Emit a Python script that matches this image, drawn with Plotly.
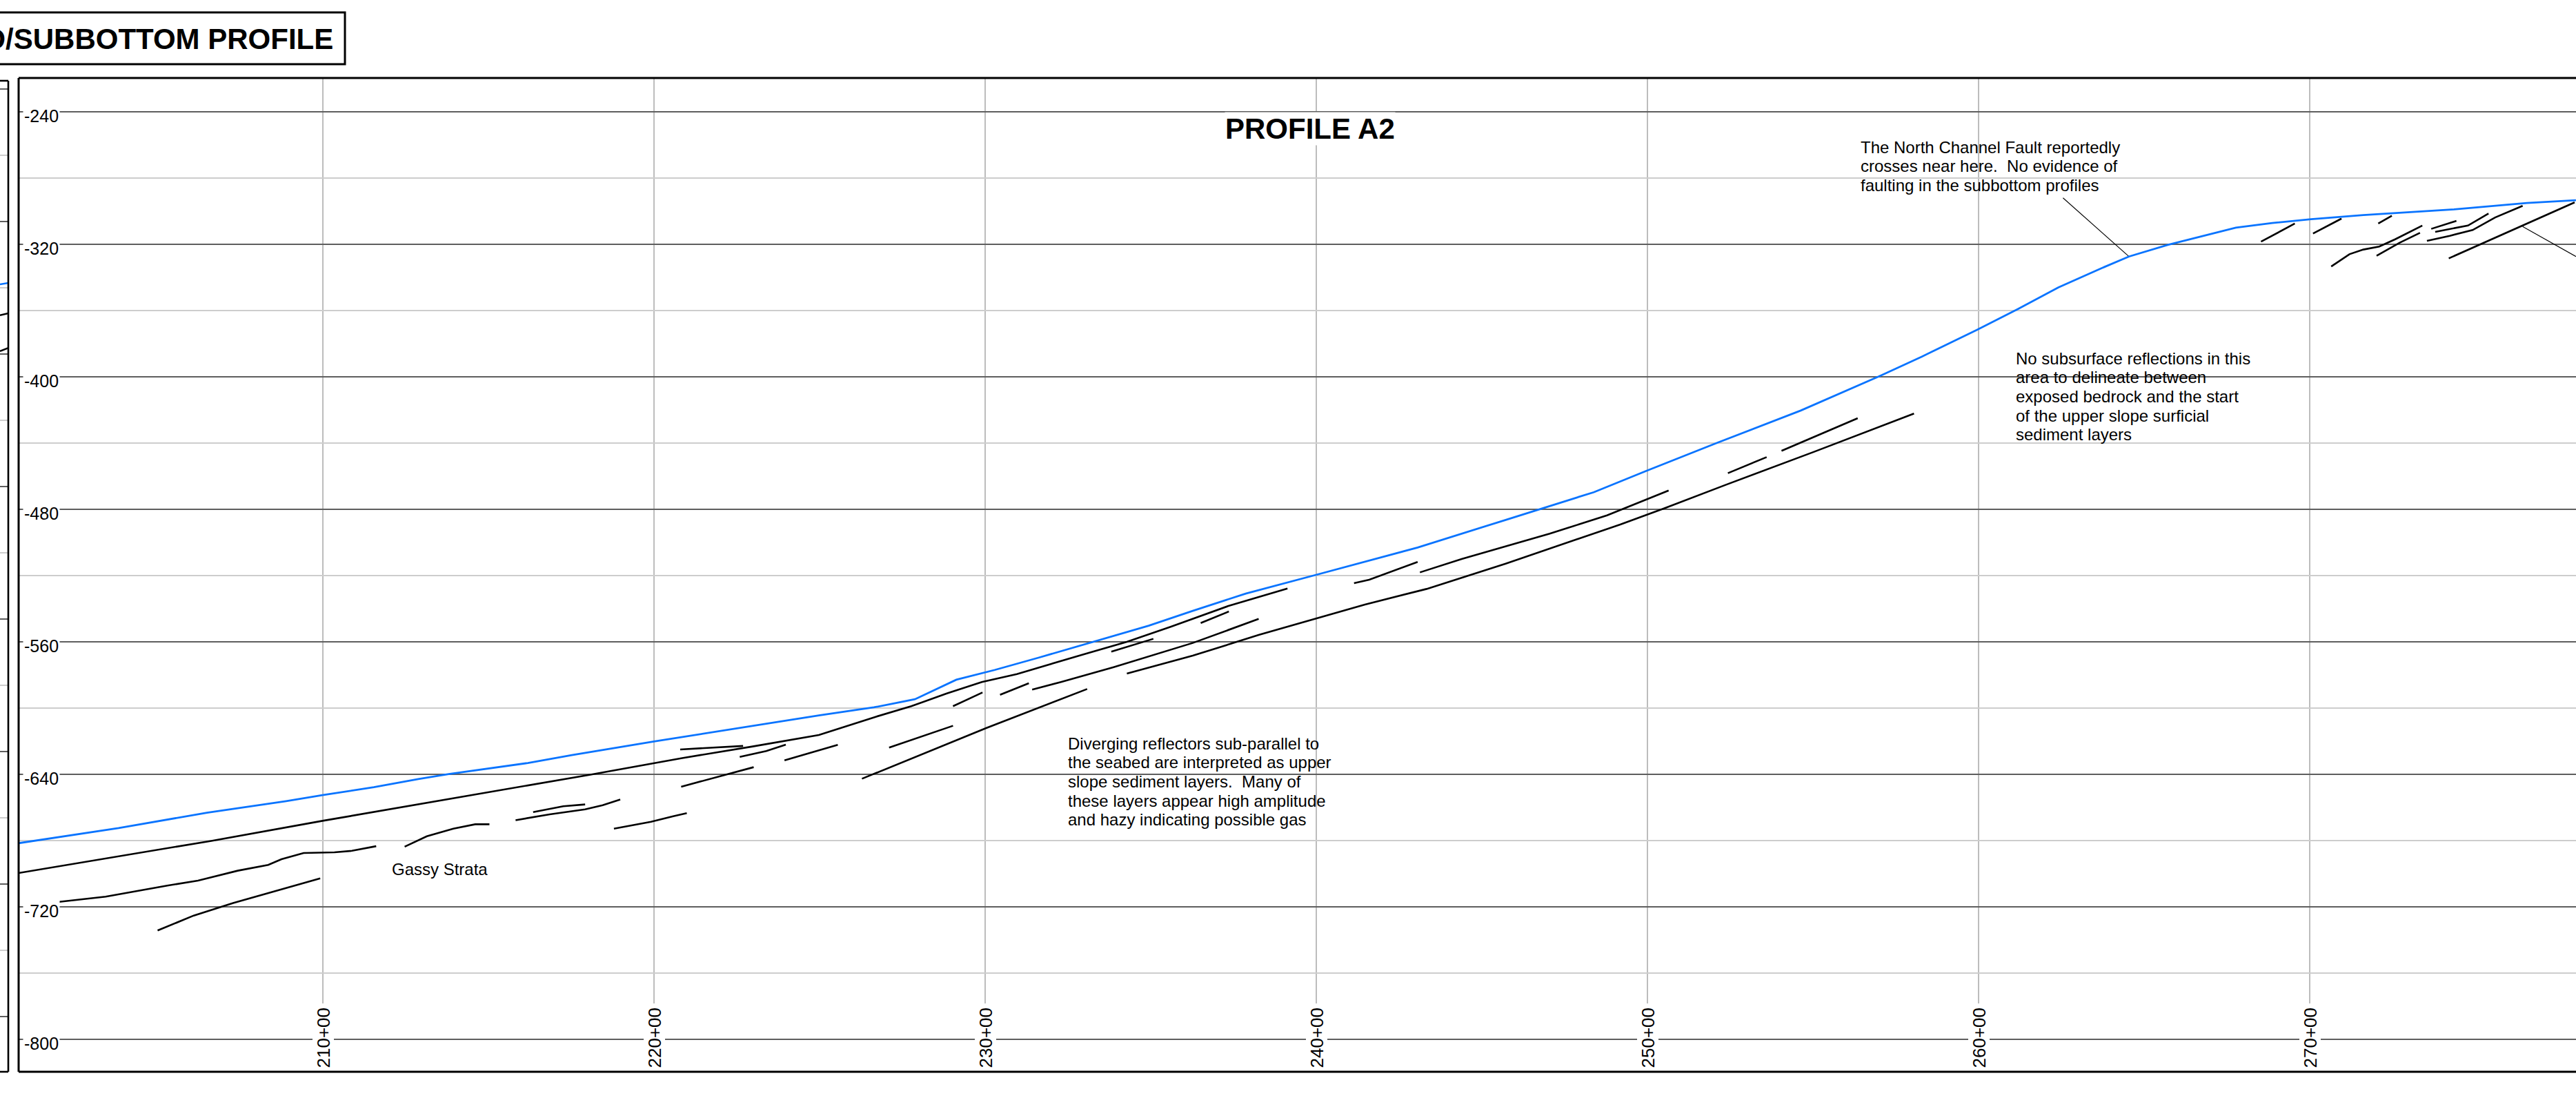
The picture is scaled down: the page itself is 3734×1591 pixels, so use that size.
import plotly.graph_objects as go

# ---------------------------------------------------------------
# Profile A2 - interpreted seabed and subbottom reflectors
# Stations in feet along line (21000 = 210+00), elevations in feet
# ---------------------------------------------------------------

W, H = 3734, 1591

# Seabed (bathymetric surface)
seabed_sta = [20081, 20383, 20650, 20889, 21002, 21154, 21288, 21380, 21619, 21752,
              22000, 22166, 22298, 22498, 22664, 22788, 22913, 23029, 23163, 23322,
              23494, 23627, 23787, 24001, 24306, 24572, 24838, 24997, 25210, 25463,
              25701, 25829, 25994, 26117, 26241, 26365, 26454, 26571, 26681, 26777,
              26887, 27004, 27162, 27436, 27656, 27804]
seabed_elev = [-681.7, -672.6, -663.3, -656.3, -652.6, -647.9, -643.0, -640.0, -633.3, -628.5,
               -620.3, -615.0, -610.8, -604.6, -599.7, -594.8, -583.0, -577.1, -569.6, -560.4,
               -550.4, -541.4, -531.0, -519.6, -503.2, -486.5, -469.8, -456.9, -440.0, -420.5,
               -399.7, -387.9, -371.9, -359.4, -346.2, -335.1, -327.5, -320.5, -315.0, -310.1,
               -307.3, -305.0, -302.5, -299.0, -295.2, -293.5]

# Interpreted subbottom reflectors
refl_01_sta = [20081, 20291, 20663, 21002, 21354, 21805, 22085, 22298, 22498, 22671,
               22777, 22883, 22990, 23096, 23295, 23428, 23560, 23733, 23913]
refl_01_elev = [-699.7, -692.8, -680.3, -668.1, -656.0, -640.4, -630.3, -623.3, -616.4, -605.3,
                -599.0, -591.4, -584.4, -579.6, -567.8, -560.1, -551.1, -538.6, -527.9]
refl_02_sta = [20204, 20344, 20530, 20623, 20743, 20835, 20875, 20942, 21035, 21088, 21161]
refl_02_elev = [-717.1, -714.0, -707.3, -704.3, -698.3, -694.8, -691.4, -687.6, -687.2, -686.3, -683.5]
refl_03_sta = [20501, 20610, 20729, 20992]
refl_03_elev = [-734.4, -725.4, -717.8, -702.9]
refl_04_sta = [21247, 21314, 21394, 21460, 21503]
refl_04_elev = [-683.8, -677.5, -672.9, -670.3, -670.3]
refl_05_sta = [21582, 21685, 21792, 21845, 21898]
refl_05_elev = [-667.8, -664.3, -661.3, -658.8, -655.3]
refl_06_sta = [21635, 21726, 21792]
refl_06_elev = [-662.9, -659.4, -658.3]
refl_07_sta = [21879, 21991, 22058, 22099]
refl_07_elev = [-672.9, -668.8, -665.4, -663.6]
refl_08_sta = [22079, 22269]
refl_08_elev = [-625.1, -623.0]
refl_09_sta = [22259, 22339, 22398]
refl_09_elev = [-629.6, -626.1, -622.2]
refl_10_sta = [22394, 22555]
refl_10_elev = [-631.7, -622.3]
refl_11_sta = [22082, 22301]
refl_11_elev = [-647.6, -635.8]
refl_12_sta = [22710, 22903]
refl_12_elev = [-624.0, -610.8]
refl_13_sta = [22628, 23003, 23308]
refl_13_elev = [-642.8, -612.2, -588.6]
refl_14_sta = [22903, 22992]
refl_14_elev = [-599.0, -590.7]
refl_15_sta = [23045, 23132]
refl_15_elev = [-592.1, -585.1]
refl_16_sta = [23142, 23229, 23388, 23627, 23826]
refl_16_elev = [-589.0, -584.4, -575.4, -560.8, -546.3]
refl_17_sta = [23381, 23508]
refl_17_elev = [-566.1, -558.3]
refl_18_sta = [23651, 23736]
refl_18_elev = [-548.8, -541.8]
refl_19_sta = [23428, 23627, 23826, 24147, 24333, 24572, 24918, 25050, 25236, 25502, 25805]
refl_19_elev = [-579.3, -568.5, -556.0, -537.6, -528.2, -512.9, -489.3, -479.6, -465.4, -445.5, -422.3]
refl_20_sta = [24114, 24160, 24306]
refl_20_elev = [-524.7, -522.6, -511.9]
refl_21_sta = [24313, 24439, 24705, 24878, 25064]
refl_21_elev = [-518.2, -510.1, -494.8, -483.8, -468.8]
refl_22_sta = [25243, 25360]
refl_22_elev = [-458.3, -448.6]
refl_23_sta = [25405, 25635]
refl_23_elev = [-444.8, -425.1]
# upper slope / shelf break reflectors
refl_24_sta = [26853, 26955]
refl_24_elev = [-318.5, -307.6]
refl_25_sta = [27010, 27096]
refl_25_elev = [-313.6, -304.6]
refl_26_sta = [27207, 27248]
refl_26_elev = [-307.6, -302.9]
refl_27_sta = [27065, 27120, 27162, 27210, 27258, 27340]
refl_27_elev = [-333.5, -326.1, -323.3, -321.5, -317.1, -308.8]
refl_28_sta = [27202, 27271, 27333]
refl_28_elev = [-327.1, -319.2, -313.2]
refl_29_sta = [27367, 27443]
refl_29_elev = [-310.8, -306.0]
refl_30_sta = [27379, 27478, 27540]
refl_30_elev = [-312.6, -308.8, -301.5]
refl_31_sta = [27354, 27423, 27492, 27560, 27643]
refl_31_elev = [-318.0, -315.0, -311.5, -303.9, -296.9]
refl_32_sta = [27420, 27800]
refl_32_elev = [-328.6, -294.8]

# Callout leader lines
fault_leader_sta = [26255, 26454]
fault_leader_elev = [-292.1, -327.5]
edge_leader_sta = [27643, 27804]
edge_leader_elev = [-309.4, -327.5]

# Axis ticks
station_ticks = [21000, 22000, 23000, 24000, 25000, 26000, 27000]
elev_ticks = [-240, -320, -400, -480, -560, -640, -720, -800]

# Adjoining panel (previous profile sheet) at the left edge
prev_x = [0, 1]
prev_seabed = [-278.1, -277.3]
prev_refl_a = [-296.8, -295.6]
prev_refl_b = [-318.5, -316.5]

reflectors = [
    (refl_01_sta, refl_01_elev), (refl_02_sta, refl_02_elev), (refl_03_sta, refl_03_elev),
    (refl_04_sta, refl_04_elev), (refl_05_sta, refl_05_elev), (refl_06_sta, refl_06_elev),
    (refl_07_sta, refl_07_elev), (refl_08_sta, refl_08_elev), (refl_09_sta, refl_09_elev),
    (refl_10_sta, refl_10_elev), (refl_11_sta, refl_11_elev), (refl_12_sta, refl_12_elev),
    (refl_13_sta, refl_13_elev), (refl_14_sta, refl_14_elev), (refl_15_sta, refl_15_elev),
    (refl_16_sta, refl_16_elev), (refl_17_sta, refl_17_elev), (refl_18_sta, refl_18_elev),
    (refl_19_sta, refl_19_elev), (refl_20_sta, refl_20_elev), (refl_21_sta, refl_21_elev),
    (refl_22_sta, refl_22_elev), (refl_23_sta, refl_23_elev), (refl_24_sta, refl_24_elev),
    (refl_25_sta, refl_25_elev), (refl_26_sta, refl_26_elev), (refl_27_sta, refl_27_elev),
    (refl_28_sta, refl_28_elev), (refl_29_sta, refl_29_elev), (refl_30_sta, refl_30_elev),
    (refl_31_sta, refl_31_elev), (refl_32_sta, refl_32_elev),
]

FONT = "Liberation Sans, Arial, Helvetica, sans-serif"
BLUE = "#0a74ff"
GRID_MAJOR = "#5e5e5e"
GRID_MINOR = "#cdcdcd"

fig = go.Figure()

# Adjoining panel traces
fig.add_trace(go.Scatter(x=prev_x, y=prev_seabed, mode="lines", line=dict(color=BLUE, width=2.5),
                         xaxis="x2", yaxis="y2", hoverinfo="skip"))
for prev in (prev_refl_a, prev_refl_b):
    fig.add_trace(go.Scatter(x=prev_x, y=prev, mode="lines", line=dict(color="black", width=2.5),
                             xaxis="x2", yaxis="y2", hoverinfo="skip"))

# Reflectors
for sta, elev in reflectors:
    fig.add_trace(go.Scatter(x=sta, y=elev, mode="lines",
                             line=dict(color="black", width=2.6), hoverinfo="skip"))

# Leaders
for sta, elev in ((fault_leader_sta, fault_leader_elev), (edge_leader_sta, edge_leader_elev)):
    fig.add_trace(go.Scatter(x=sta, y=elev, mode="lines",
                             line=dict(color="black", width=1.1), hoverinfo="skip"))

# Seabed
fig.add_trace(go.Scatter(x=seabed_sta, y=seabed_elev, mode="lines",
                         line=dict(color=BLUE, width=2.8), hoverinfo="skip"))

# Layout geometry
plot_left = 27
plot_top, plot_bottom = 113, 1553
plot_h = plot_bottom - plot_top
px_per_ft = 2.4
x_left_px = 468  # pixel of station 210+00
ft_per_px = 100 / 48

x_range = [21000 - (x_left_px - plot_left) * ft_per_px, 21000 + (W - x_left_px) * ft_per_px]
y_range = [-240 - (plot_bottom - 161.7) / px_per_ft, -240 + (161.7 - plot_top) / px_per_ft]

prev_top_px = 117
prev_dom_top = 1 - (prev_top_px - plot_top) / plot_h
prev_y_top = -160 + (128.5 - prev_top_px) / px_per_ft
prev_y_range = [prev_y_top - (plot_bottom - prev_top_px) / px_per_ft, prev_y_top]

fig.update_layout(
    width=W, height=H,
    margin=dict(l=0, r=0, t=plot_top, b=H - plot_bottom),
    paper_bgcolor="white", plot_bgcolor="white",
    showlegend=False, hovermode=False,
    xaxis=dict(domain=[plot_left / W, 1], range=x_range, showgrid=False, zeroline=False,
               showticklabels=False, showline=False, ticks=""),
    yaxis=dict(range=y_range, tick0=-240, dtick=80, showgrid=True, gridcolor=GRID_MAJOR,
               gridwidth=1.6, zeroline=False, showticklabels=False, showline=False, ticks="",
               minor=dict(tick0=-240, dtick=40, showgrid=True, gridcolor=GRID_MINOR, gridwidth=2)),
    xaxis2=dict(domain=[0, 12 / W], range=[0, 1], showgrid=False, zeroline=False,
                showticklabels=False, anchor="y2"),
    yaxis2=dict(domain=[0, prev_dom_top], range=prev_y_range, anchor="x2", tick0=-160, dtick=80,
                showgrid=True, gridcolor=GRID_MAJOR, gridwidth=1.6, zeroline=False,
                showticklabels=False,
                minor=dict(tick0=-160, dtick=40, showgrid=True, gridcolor=GRID_MINOR, gridwidth=2)),
)

shapes = []
# Station grid lines stop above the station labels
grid_bottom = (plot_bottom - 1454) / plot_h
for s in station_ticks:
    shapes.append(dict(type="line", xref="x", yref="y domain", x0=s, x1=s, y0=grid_bottom, y1=1,
                       line=dict(color="#7a7a7a", width=1), layer="below"))
# Frame of the main profile panel (open on the right)
for x0, y0, x1, y1 in ((0, 1, 1, 1), (0, 0, 0, 1), (0, 0, 1, 0)):
    shapes.append(dict(type="line", xref="x domain", yref="y domain", x0=x0, y0=y0, x1=x1, y1=y1,
                       line=dict(color="black", width=3)))
# Frame of the adjoining panel
for x0, y0, x1, y1 in ((1, 0, 1, 1), (0, 1, 1, 1), (0, 0, 1, 0)):
    shapes.append(dict(type="line", xref="x2 domain", yref="y2 domain", x0=x0, y0=y0, x1=x1, y1=y1,
                       line=dict(color="black", width=2.6)))
# Sheet title box
shapes.append(dict(type="rect", xref="paper", yref="paper",
                   x0=-0.01, x1=500 / W,
                   y0=(plot_bottom - 93) / plot_h, y1=(plot_bottom - 18) / plot_h,
                   line=dict(color="black", width=3), fillcolor="white"))
fig.update_layout(shapes=shapes)

annotations = []
# Sheet title
annotations.append(dict(text="<b>SEABED/SUBBOTTOM PROFILE</b>", xref="paper", yref="paper",
                        x=485 / W, y=(plot_bottom - 56) / plot_h, xanchor="right", yanchor="middle",
                        showarrow=False, font=dict(family=FONT, size=42, color="black")))
# Profile title
annotations.append(dict(text="<b>PROFILE A2</b>", xref="x", yref="y", x=23981, y=-250.3,
                        xanchor="center", yanchor="middle", showarrow=False, bgcolor="white",
                        borderpad=0, font=dict(family=FONT, size=42, color="black")))
# Elevation labels
for v in elev_ticks:
    annotations.append(dict(text=str(v), xref="x domain", yref="y", x=6 / (W - plot_left), y=v,
                            xanchor="left", yanchor="middle", yshift=-6, showarrow=False,
                            bgcolor="white", borderpad=1,
                            font=dict(family=FONT, size=25, color="black")))
# Station labels
label_y = (plot_bottom - 1504.5) / plot_h
for s in station_ticks:
    annotations.append(dict(text=f"{s // 100}+{s % 100:02d}", xref="x", yref="y domain",
                            x=s, y=label_y, textangle=-90, xanchor="center", yanchor="middle",
                            showarrow=False, bgcolor="white", borderpad=0,
                            font=dict(family=FONT, size=26, color="black")))

# Interpretation notes
LINE_STEP = 27.6
notes = [
    (23245, -621.5, ["Diverging reflectors sub-parallel to",
                     "the seabed are interpreted as upper",
                     "slope sediment layers.  Many of",
                     "these layers appear high amplitude",
                     "and hazy indicating possible gas"]),
    (25640, -261.5, ["The North Channel Fault reportedly",
                     "crosses near here.  No evidence of",
                     "faulting in the subbottom profiles"]),
    (26108, -389.0, ["No subsurface reflections in this",
                     "area to delineate between",
                     "exposed bedrock and the start",
                     "of the upper slope surficial",
                     "sediment layers"]),
    (21205, -697.3, ["Gassy Strata"]),
]
for sx, sy, lines in notes:
    for i, line in enumerate(lines):
        annotations.append(dict(text=line, xref="x", yref="y", x=sx, y=sy, xanchor="left",
                                yanchor="middle", yshift=-i * LINE_STEP, showarrow=False,
                                font=dict(family=FONT, size=24, color="black")))

fig.update_layout(annotations=annotations)

fig.write_html("out.html")
